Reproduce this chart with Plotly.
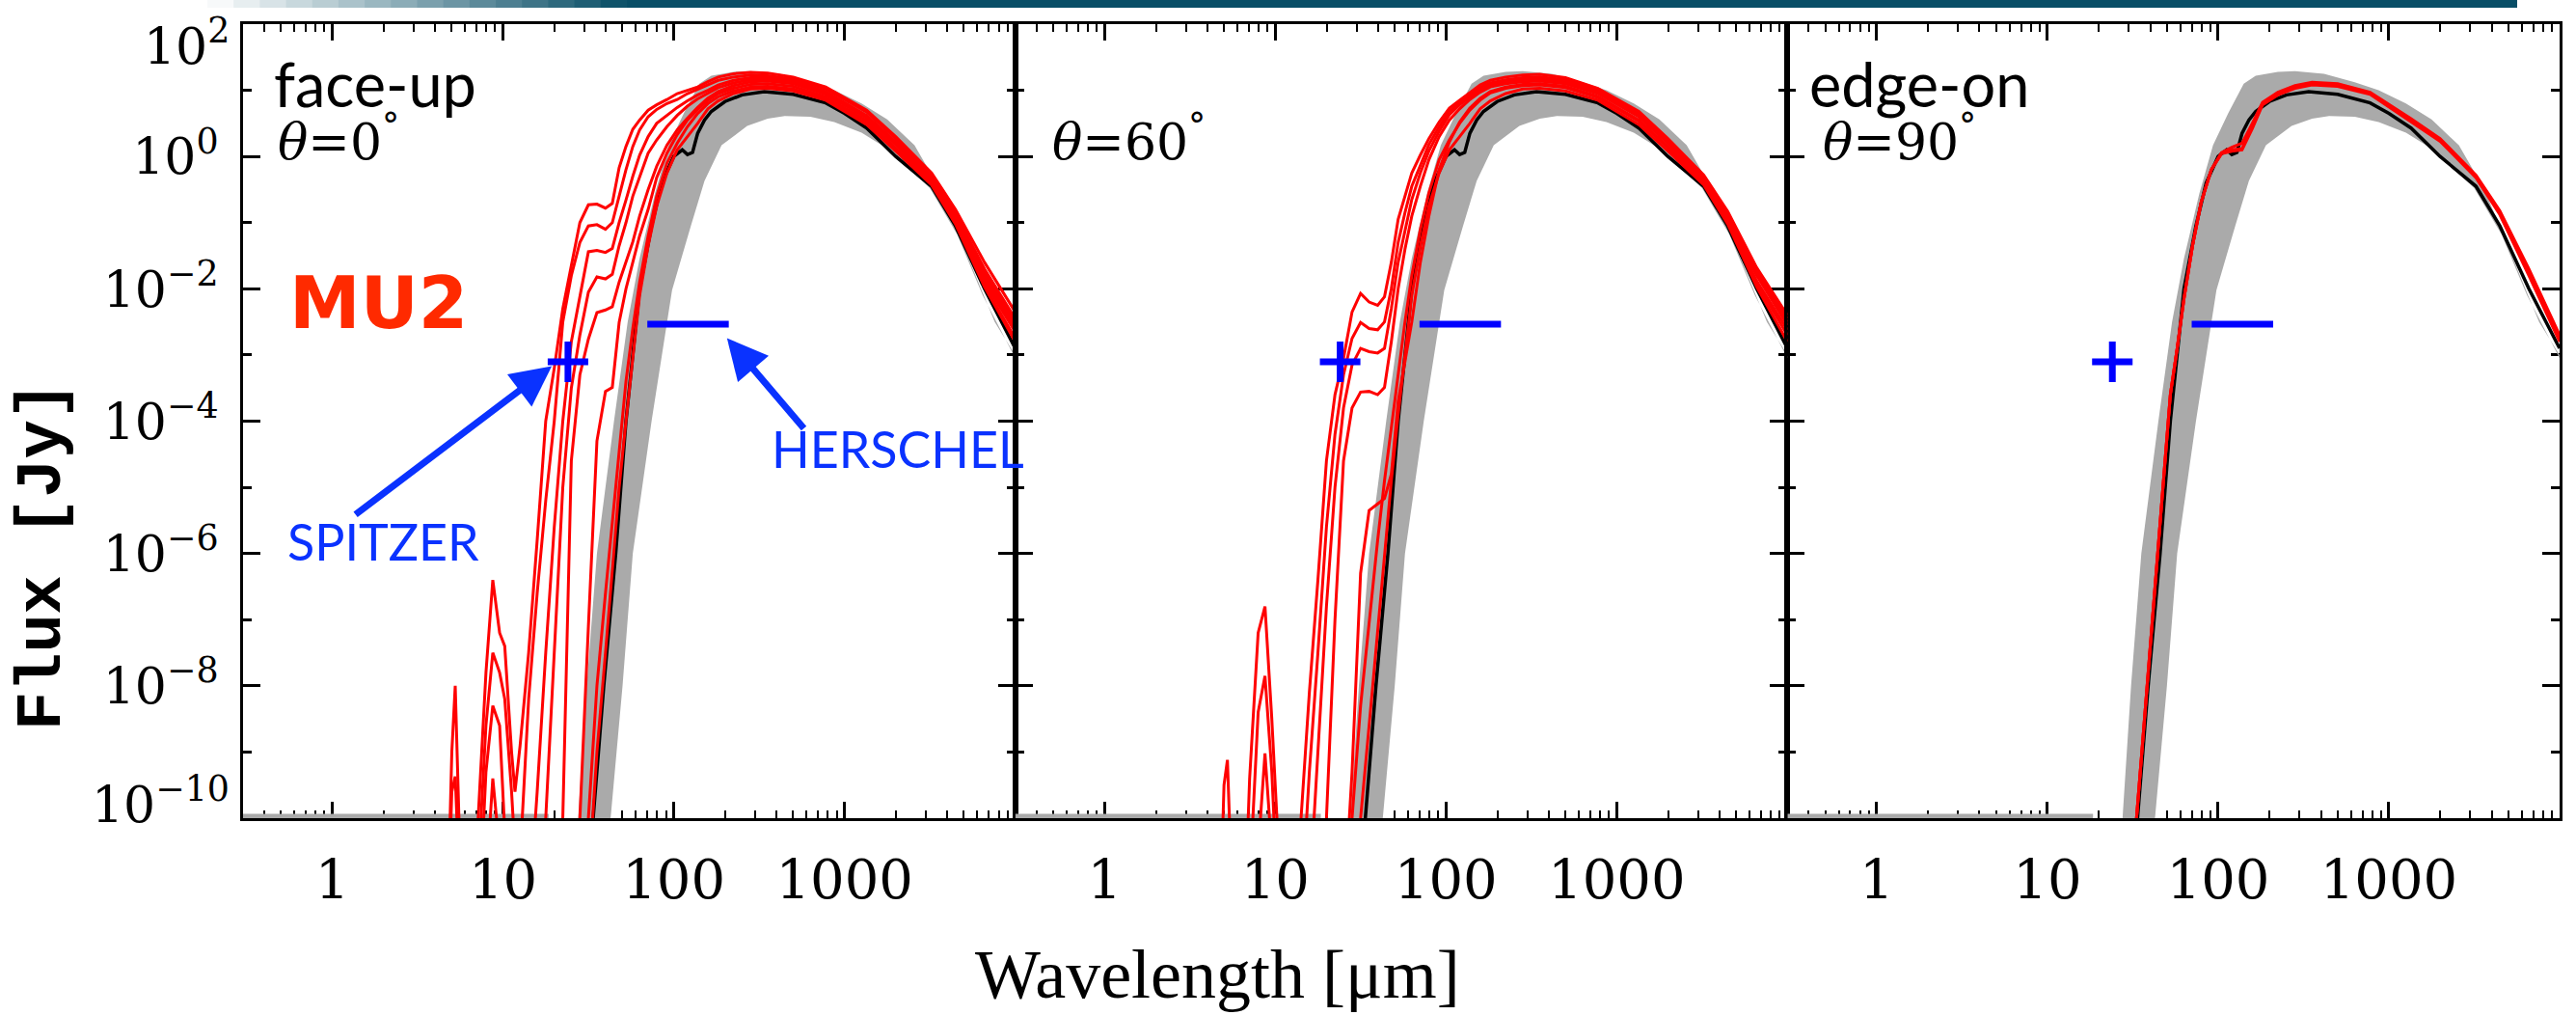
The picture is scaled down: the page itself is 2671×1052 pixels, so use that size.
import numpy as np
import plotly.graph_objects as go
from plotly.subplots import make_subplots

# ---------------- data (log10 wavelength [um], log10 flux [Jy]) ----------------
# common wavelength grid of the red model curves
GRID = [0.66, 0.70, 0.72, 0.745, 0.80, 0.85, 0.90, 0.94, 0.98, 1.01, 1.05, 1.07, 1.10,
        1.15, 1.20, 1.25, 1.30, 1.35, 1.40, 1.45, 1.50, 1.55, 1.60, 1.64,
        1.68, 1.72, 1.76, 1.80, 1.85, 1.90, 1.96, 2.02, 2.08, 2.14, 2.20, 2.26,
        2.35, 2.45, 2.55, 2.70, 2.89, 3.13, 3.30, 3.51, 3.65, 3.82, 4.00]

# panel 1 : face-up (theta = 0)
FU_A = [-13, -9.0, -8.0, -10.3, -13, -10.2, -7.8, -6.4, -7.2, -7.4, -9.0, -9.6, -8.9,
        -7.5, -5.8, -4.0, -3.2, -2.3, -1.65, -1.0, -0.73, -0.72, -0.78, -0.71,
        -0.17, 0.15, 0.41, 0.55, 0.70, 0.78, 0.86, 0.95, 1.0, 1.05, 1.13, 1.2,
        1.25, 1.27, 1.26, 1.2, 1.05, 0.7, 0.3, -0.25, -0.8, -1.6, -2.35]
FU_B = [-13, -9.6, -9.37, -11, -13, -11, -8.6, -7.5, -7.8, -8.2, -9.6, -10.5, -10.6,
        -8.2, -6.6, -5.2, -4.0, -2.5, -1.8, -1.3, -1.05, -1.03, -1.1, -1.0,
        -0.6, -0.2, 0.15, 0.4, 0.6, 0.71, 0.8, 0.86, 0.95, 1.02, 1.08, 1.15,
        1.2, 1.23, 1.22, 1.17, 1.02, 0.67, 0.27, -0.3, -0.85, -1.7, -2.45]
FU_C = [-13, -13, -13, -13, -13, -12, -9.3, -8.3, -8.6, -10.2, -12, -13, -13,
        -11.5, -9.6, -7.5, -5.6, -4.0, -2.8, -2.1, -1.44, -1.42, -1.45, -1.39,
        -1.0, -0.66, -0.3, 0.02, 0.3, 0.5, 0.62, 0.74, 0.84, 0.93, 1.0, 1.08,
        1.15, 1.19, 1.19, 1.14, 0.98, 0.62, 0.22, -0.33, -0.88, -1.75, -2.5]
FU_D = [-13, -13, -13, -13, -13, -13, -11, -9.4, -10.5, -13, -13, -13, -13,
        -13, -12, -10, -7.5, -5.0, -3.5, -2.7, -2.05, -1.82, -1.85, -1.78,
        -1.35, -1.0, -0.6, -0.3, 0.05, 0.25, 0.45, 0.62, 0.76, 0.87, 0.95, 1.04,
        1.11, 1.16, 1.16, 1.12, 0.96, 0.6, 0.2, -0.36, -0.9, -1.8, -2.55]
FU_E = [-13, -13, -13, -13, -13, -13, -13, -13, -13, -13, -13, -13, -13,
        -13, -13, -13, -12, -10, -4.6, -3.3, -2.76, -2.36, -2.32, -2.27,
        -1.9, -1.6, -1.29, -0.9, -0.5, -0.15, 0.17, 0.4, 0.58, 0.74, 0.88, 0.98,
        1.07, 1.13, 1.14, 1.1, 0.94, 0.58, 0.18, -0.38, -0.93, -1.85, -2.6]
FU_F = [-13, -13, -13, -13, -13, -13, -13, -13, -13, -13, -13, -13, -13,
        -13, -13, -13, -13, -13, -12.5, -10, -7.1, -4.3, -3.55, -3.49,
        -2.51, -2.0, -1.6, -1.2, -0.8, -0.32, 0.05, 0.33, 0.55, 0.71, 0.85, 0.95,
        1.03, 1.09, 1.1, 1.06, 0.9, 0.54, 0.13, -0.4, -0.97, -1.9, -2.65]
FU_G = [-13, -13, -13, -13, -13, -13, -13, -13, -13, -13, -13, -13, -13,
        -13, -13, -13, -13, -13, -13, -12, -10, -8.0, -6.6, -5.5,
        -4.4, -3.4, -2.6, -1.9, -1.2, -0.6, -0.1, 0.2, 0.45, 0.65, 0.8, 0.9,
        0.99, 1.05, 1.06, 1.02, 0.87, 0.5, 0.1, -0.42, -1.0, -1.95, -2.75]
FU_H = [-13, -13, -13, -13, -13, -13, -13, -13, -13, -13, -13, -13, -13,
        -13, -13, -13, -13, -13, -13, -13, -11, -9.0, -7.5, -6.3,
        -5.0, -4.0, -3.0, -2.1, -1.35, -0.75, -0.25, 0.1, 0.3, 0.5, 0.72, 0.84,
        0.95, 1.02, 1.03, 0.99, 0.85, 0.48, 0.08, -0.43, -1.02, -1.97, -2.8]

# panel 2 : theta = 60
I60_1 = [-13, -9.5, -9.12, -11, -13, -9.4, -7.2, -6.8, -8.5, -9.9, -12, -13, -12,
         -10, -8.1, -6.4, -4.6, -3.6, -3.05, -2.35, -2.07, -2.2, -2.25, -2.12,
         -1.6, -0.95, -0.6, -0.25, 0.02, 0.27, 0.52, 0.73, 0.85, 0.96, 1.08, 1.15,
         1.2, 1.23, 1.24, 1.19, 1.03, 0.68, 0.27, -0.28, -0.83, -1.68, -2.4]
I60_2 = [-13, -13, -13, -13, -13, -11, -8.4, -7.85, -9.3, -11, -13, -13, -13,
         -11.5, -9.3, -7.5, -5.6, -4.2, -3.3, -2.75, -2.51, -2.6, -2.62, -2.5,
         -2.0, -1.3, -0.85, -0.45, -0.12, 0.18, 0.45, 0.68, 0.82, 0.93, 1.04, 1.11,
         1.16, 1.19, 1.2, 1.16, 1.0, 0.65, 0.25, -0.3, -0.86, -1.72, -2.45]
I60_3 = [-13, -13, -13, -13, -13, -13, -10.5, -9.02, -10.5, -13, -13, -13, -13,
         -13, -11.2, -9.0, -6.8, -5.0, -3.8, -3.15, -2.9, -2.95, -2.97, -2.9,
         -2.3, -1.6, -1.1, -0.65, -0.25, 0.08, 0.38, 0.63, 0.78, 0.9, 1.0, 1.08,
         1.13, 1.16, 1.17, 1.13, 0.97, 0.62, 0.22, -0.33, -0.89, -1.77, -2.5]
I60_4 = [-13, -13, -13, -13, -13, -13, -13, -13, -13, -13, -13, -13, -13,
         -13, -13, -13, -10, -7.0, -4.6, -3.8, -3.56, -3.55, -3.6, -3.49,
         -2.8, -2.0, -1.4, -0.9, -0.45, -0.05, 0.3, 0.55, 0.72, 0.86, 0.97, 1.05,
         1.1, 1.13, 1.14, 1.1, 0.95, 0.6, 0.2, -0.35, -0.92, -1.8, -2.55]
I60_5 = [-13, -13, -13, -13, -13, -13, -13, -13, -13, -13, -13, -13, -13,
         -13, -13, -13, -13, -13, -11.5, -9.3, -6.3, -5.35, -5.25, -5.17,
         -4.8, -3.7, -3.1, -2.5, -1.6, -0.9, -0.2, 0.22, 0.52, 0.73, 0.88, 0.98,
         1.05, 1.09, 1.1, 1.06, 0.91, 0.55, 0.15, -0.39, -0.97, -1.88, -2.62]
I60_6 = [-13, -13, -13, -13, -13, -13, -13, -13, -13, -13, -13, -13, -13,
         -13, -13, -13, -13, -13, -12, -10, -8.3, -7.0, -5.8, -4.9,
         -4.1, -3.3, -2.5, -1.8, -1.1, -0.55, -0.05, 0.25, 0.5, 0.7, 0.85, 0.96,
         1.03, 1.07, 1.08, 1.04, 0.89, 0.53, 0.13, -0.41, -0.99, -1.92, -2.7]
I60_7 = [-13, -13, -13, -13, -13, -13, -13, -13, -13, -13, -13, -13, -13,
         -13, -13, -13, -13, -13, -13, -12, -10, -8.6, -7.2, -6.1,
         -4.9, -3.9, -2.95, -2.1, -1.35, -0.75, -0.25, 0.1, 0.3, 0.5, 0.72, 0.84,
         0.95, 1.02, 1.03, 0.99, 0.85, 0.48, 0.08, -0.43, -1.02, -1.97, -2.8]

# panel 3 : edge-on (theta = 90)
EO_1 = [-13, -13, -13, -13, -13, -13, -13, -13, -13, -13, -13, -13, -13,
        -13, -13, -13, -13, -13, -13, -12.5, -10.7, -9.1, -7.5, -6.2,
        -5.0, -3.6, -2.9, -2.15, -1.35, -0.7, -0.2, 0.05, 0.1, 0.12, 0.45, 0.8,
        0.95, 1.05, 1.1, 1.08, 0.95, 0.55, 0.25, -0.3, -0.85, -1.75, -2.75]
EO_2 = [-13, -13, -13, -13, -13, -13, -13, -13, -13, -13, -13, -13, -13,
        -13, -13, -13, -13, -13, -13, -12.5, -10.7, -9.1, -7.5, -6.2,
        -5.0, -3.6, -2.9, -2.15, -1.35, -0.7, -0.2, 0.06, 0.14, 0.2, 0.5, 0.82,
        0.97, 1.07, 1.12, 1.1, 0.97, 0.57, 0.27, -0.28, -0.82, -1.7, -2.7]
EO_3 = [-13, -13, -13, -13, -13, -13, -13, -13, -13, -13, -13, -13, -13,
        -13, -13, -13, -13, -13, -13, -12.5, -10.7, -9.1, -7.5, -6.2,
        -5.0, -3.6, -2.9, -2.15, -1.35, -0.7, -0.2, 0.04, 0.08, 0.1, 0.42, 0.78,
        0.93, 1.03, 1.08, 1.06, 0.94, 0.53, 0.23, -0.32, -0.88, -1.8, -2.8]

# reference SED (black) - identical in the three panels
BLACK_L = [1.45, 1.53, 1.59, 1.66, 1.72, 1.76, 1.80, 1.87, 1.93, 2.00, 2.05, 2.08, 2.11,
           2.14, 2.18, 2.22, 2.30, 2.40, 2.53, 2.70, 2.89, 3.00, 3.13, 3.30, 3.51, 3.65, 3.82, 4.00]
BLACK_F = [-12.5, -10.0, -8.0, -6.0, -4.0, -3.0, -2.0, -1.05, -0.4, 0.0, 0.1, 0.03, 0.06,
           0.35, 0.55, 0.68, 0.83, 0.93, 0.98, 0.94, 0.81, 0.65, 0.43, 0.0, -0.45, -1.05, -2.0, -2.9]

# grey model range (upper/left envelope, lower/right envelope)
GREY_UP_L = [1.40, 1.44, 1.49, 1.55, 1.65, 1.73, 1.80, 1.89, 1.97, 2.06, 2.15, 2.22, 2.35,
             2.45, 2.62, 2.80, 2.94, 3.10, 3.25, 3.41, 3.56, 3.72, 3.88, 4.00]
GREY_UP_F = [-12.5, -10, -8, -6, -4, -2.5, -1.54, -0.56, 0.17, 0.66, 1.1, 1.22, 1.28,
             1.29, 1.25, 1.12, 1.0, 0.8, 0.56, 0.17, -0.5, -1.5, -2.5, -3.0]
GREY_LO_L = [1.60, 1.63, 1.70, 1.76, 1.87, 1.99, 2.10, 2.18, 2.28, 2.43, 2.55, 2.65, 2.80,
             2.94, 3.10, 3.25, 3.50, 3.66, 3.81, 4.00]
GREY_LO_F = [-12.5, -10, -8, -6, -4, -2.02, -1.05, -0.37, 0.17, 0.46, 0.57, 0.61, 0.60,
             0.52, 0.36, 0.12, -0.48, -1.18, -2.1, -3.05]

# grey floor along the lower axis (um, Jy)
FLOOR_L = [0.3, 18.5]
FLOOR_F = [1e-10, 1e-10]

# observations (um, Jy)
SPITZER_L = [24.0]
SPITZER_F = [7.9e-4]
HERSCHEL_L = [70.0, 210.0]
HERSCHEL_F = [2.93e-3, 2.93e-3]

# axis ticks (the two end labels are pulled inside the frame, as in the original)
XTICK_VALS = [1, 10, 100, 1000]
XTICK_TEXT = ["1", "10", "100", "1000"]
X_MINOR = [m * d for d in (0.1, 1, 10, 100, 1000) for m in range(2, 10) if 0.3 <= m * d < 10000]
YTICK_VALS = [1e-10, 1e-8, 1e-6, 1e-4, 1e-2, 1e0, 1e2]
YTICK_TEXT = ["", "10<sup>\u22128</sup>", "10<sup>\u22126</sup>",
              "10<sup>\u22124</sup>", "10<sup>\u22122</sup>", "10<sup>0</sup>", ""]
YEND_TEXT = ["10<sup>\u221210</sup>", "10<sup>2</sup>"]
Y_MINOR = [1e-9, 1e-7, 1e-5, 1e-3, 1e-1, 1e1]

PANELS = [
    [FU_A, FU_B, FU_C, FU_D, FU_E, FU_F, FU_G, FU_H],
    [I60_1, I60_2, I60_3, I60_4, I60_5, I60_6, I60_7],
    [EO_1, EO_2, EO_3],
]
for pan in PANELS:
    for c in pan:
        assert len(c) == len(GRID), len(c)

# ---------------- figure ----------------
W, H = 2671, 1052
ML, MR, MT, MB = 252, 17, 25, 204


def px(X):
    return (X - ML) / (W - ML - MR)


def py(Y):
    return 1 - (Y - MT) / (H - MT - MB)


RED = "#ff0000"
GREY = "#aaaaaa"
BLUE = "#0000ff"
ABLUE = "#0a32ff"

fig = make_subplots(rows=1, cols=3, shared_yaxes=True, horizontal_spacing=0)

lam_grid = 10 ** np.array(GRID)
for col, curves in enumerate(PANELS, start=1):
    gx = np.concatenate([GREY_UP_L, GREY_LO_L[::-1]])
    gy = np.concatenate([GREY_UP_F, GREY_LO_F[::-1]])
    fig.add_trace(go.Scatter(x=10 ** gx, y=10 ** gy, fill="toself", fillcolor=GREY,
                             line=dict(width=0, color=GREY), mode="lines",
                             hoverinfo="skip"), row=1, col=col)
    fig.add_trace(go.Scatter(x=FLOOR_L, y=FLOOR_F, mode="lines",
                             line=dict(color=GREY, width=9)), row=1, col=col)
    fig.add_trace(go.Scatter(x=10 ** np.array(BLACK_L), y=10 ** np.array(BLACK_F), mode="lines",
                             line=dict(color="black", width=3.5)), row=1, col=col)
    for c in curves:
        fig.add_trace(go.Scatter(x=lam_grid, y=10 ** np.array(c, dtype=float), mode="lines",
                                 line=dict(color=RED, width=3)), row=1, col=col)
    fig.add_trace(go.Scatter(x=HERSCHEL_L, y=HERSCHEL_F, mode="lines",
                             line=dict(color=BLUE, width=7)), row=1, col=col)
    fig.add_trace(go.Scatter(x=SPITZER_L, y=SPITZER_F, mode="markers",
                             marker=dict(symbol="cross-thin", size=30,
                                         line=dict(color=BLUE, width=7))), row=1, col=col)

axis_common = dict(showline=True, linewidth=3, linecolor="black", mirror="ticks",
                   ticks="inside", tickwidth=3, tickcolor="black", showgrid=False,
                   zeroline=False, layer="below traces", ticklabeloverflow="allow",
                   automargin=False)

fig.update_xaxes(type="log", range=[np.log10(0.3), 4], tickvals=XTICK_VALS, ticktext=XTICK_TEXT,
                 ticklen=17,
                 minor=dict(ticks="inside", ticklen=8, tickwidth=2, tickcolor="black",
                            tickvals=X_MINOR),
                 tickfont=dict(family="DejaVu Serif", size=56, color="black"),
                 ticklabelstandoff=13, **axis_common)
fig.update_yaxes(type="log", range=[-10, 2], tickvals=YTICK_VALS, ticktext=YTICK_TEXT,
                 ticklen=18,
                 minor=dict(ticks="inside", ticklen=9, tickwidth=3, tickcolor="black",
                            tickvals=Y_MINOR),
                 tickfont=dict(family="DejaVu Serif", size=52, color="black"),
                 ticklabelstandoff=12, **axis_common)

annos = []
TXT = dict(xref="paper", yref="paper", showarrow=False, xanchor="left", yanchor="middle")
# end labels of the flux axis, nudged inside like in the original figure
annos.append(dict(text=YEND_TEXT[1], x=px(240), y=py(44), xref="paper", yref="paper",
                  showarrow=False, xanchor="right", yanchor="middle",
                  font=dict(family="DejaVu Serif", size=52, color="black")))
annos.append(dict(text=YEND_TEXT[0], x=px(240), y=py(830), xref="paper", yref="paper",
                  showarrow=False, xanchor="right", yanchor="middle",
                  font=dict(family="DejaVu Serif", size=52, color="black")))

annos.append(dict(text="face-up", x=px(282), y=py(86), font=dict(family="Lato", size=63, color="black"), **TXT))
annos.append(dict(text="<i>\u03b8</i>=0<sup>\u00b0</sup>", x=px(286), y=py(143),
                  font=dict(family="DejaVu Serif", size=52, color="black"), **TXT))
annos.append(dict(text="<i>\u03b8</i>=60<sup>\u00b0</sup>", x=px(1089), y=py(143),
                  font=dict(family="DejaVu Serif", size=52, color="black"), **TXT))
annos.append(dict(text="edge-on", x=px(1874), y=py(86), font=dict(family="Lato", size=63, color="black"), **TXT))
annos.append(dict(text="<i>\u03b8</i>=90<sup>\u00b0</sup>", x=px(1888), y=py(143),
                  font=dict(family="DejaVu Serif", size=52, color="black"), **TXT))
annos.append(dict(text="<b>MU2</b>", x=px(298), y=py(314),
                  font=dict(family="DejaVu Sans", size=74, color="#ff2a00"), **TXT))
annos.append(dict(text="SPITZER", x=px(296), y=py(561), font=dict(family="Lato", size=52, color=ABLUE), **TXT))
annos.append(dict(text="HERSCHEL", x=px(798), y=py(465), font=dict(family="Lato", size=52, color=ABLUE), **TXT))
annos.append(dict(text="<b>Flux [Jy]</b>", x=px(44), y=py(576), xref="paper", yref="paper",
                  showarrow=False, textangle=-90, xanchor="center", yanchor="middle",
                  font=dict(family="Liberation Mono", size=67, color="black")))
annos.append(dict(text="Wavelength [\u03bcm]", x=px(1262), y=py(1010), xref="paper", yref="paper",
                  showarrow=False, xanchor="center", yanchor="middle",
                  font=dict(family="Liberation Serif", size=72, color="black")))

# arrows pointing at the observations (panel 1)
annos.append(dict(x=np.log10(19.3), y=np.log10(6.8e-4), xref="x", yref="y", text="",
                  showarrow=True, arrowhead=2, arrowsize=1.2, arrowwidth=7, arrowcolor=ABLUE,
                  ax=-205, ay=155, standoff=0))
annos.append(dict(x=np.log10(205), y=np.log10(1.8e-3), xref="x", yref="y", text="",
                  showarrow=True, arrowhead=2, arrowsize=1.2, arrowwidth=7, arrowcolor=ABLUE,
                  ax=81, ay=95, standoff=0))

# decorative slide bar at the very top
shapes = []
TEAL = np.array([8, 78, 102])
n = 16
x0, x1 = 215, 650
for i in range(n):
    t = (i + 0.5) / n
    c = (255 * (1 - t) + TEAL * t).astype(int)
    shapes.append(dict(type="rect", xref="paper", yref="paper",
                       x0=px(x0 + (x1 - x0) * i / n), x1=px(x0 + (x1 - x0) * (i + 1) / n + 1),
                       y0=py(8), y1=py(0), line=dict(width=0),
                       fillcolor="rgb(%d,%d,%d)" % tuple(c)))
shapes.append(dict(type="rect", xref="paper", yref="paper", x0=px(x1), x1=px(2610),
                   y0=py(8), y1=py(0), line=dict(width=0), fillcolor="rgb(8,78,102)"))

fig.update_layout(width=W, height=H, autosize=False,
                  margin=dict(l=ML, r=MR, t=MT, b=MB, pad=0, autoexpand=False),
                  plot_bgcolor="white", paper_bgcolor="white", showlegend=False,
                  annotations=annos, shapes=shapes)

fig.write_html("out.html")
